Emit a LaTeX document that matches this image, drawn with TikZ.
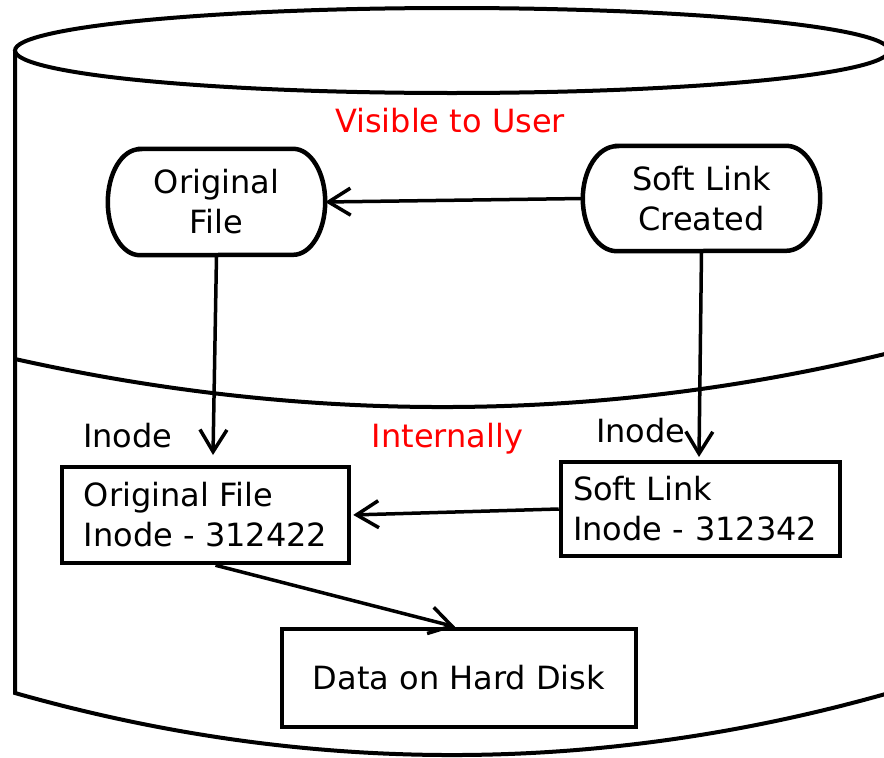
\documentclass[tikz,border=0pt]{standalone}
\usepackage{fontspec}
\setmainfont{DejaVu Sans}
\usetikzlibrary{arrows.meta,calc}
\begin{document}
\begin{tikzpicture}[x=1pt,y=-1pt,
  cyl/.style={line width=4pt},
  txt/.style={font=\fontsize{32}{40}\selectfont},
  pill/.style={txt, inner sep=0pt, align=center},
  outline/.style={line width=4.5pt},
  rbox/.style={txt, draw, line width=4.5pt, inner ysep=0pt, align=left},
  lbl/.style={txt, inner sep=0pt},
  conn/.style={line width=3.5pt, -{Straight Barb[length=22pt,width=27pt,line width=3.5pt]}}
]
\useasboundingbox (0,0) rectangle (884,758);
% cylinder
\draw[cyl] (452,50.5) ellipse[x radius=437pt, y radius=42.5pt];
\draw[cyl] (15,50.5) -- (15,693) .. controls (306.3,775.7) and (597.7,775.7) .. (889,693) -- (889,50.5);
\draw[cyl] (15,359) .. controls (306.3,424) and (597.7,424) .. (889,353);
% pill nodes
\node[pill, minimum width=217pt, minimum height=106pt] (orig) at (216.5,202) {Original\\File};
\node[pill, minimum width=237pt, minimum height=105pt] (soft) at (701.5,198.5) {Soft Link\\Created};
\draw[outline] ([xshift=32pt]orig.north west) -- ([xshift=-32pt]orig.north east)
  arc[start angle=90,end angle=-90,x radius=32pt,y radius=53pt]
  -- ([xshift=32pt]orig.south west)
  arc[start angle=270,end angle=90,x radius=32pt,y radius=53pt] -- cycle;
\draw[outline] ([xshift=34pt]soft.north west) -- ([xshift=-34pt]soft.north east)
  arc[start angle=90,end angle=-90,x radius=34pt,y radius=52.5pt]
  -- ([xshift=34pt]soft.south west)
  arc[start angle=270,end angle=90,x radius=34pt,y radius=52.5pt] -- cycle;
% rectangles
\node[rbox, minimum width=287pt, minimum height=96pt] (origI) at (205.5,515) {Original File\\Inode - 312422};
\node[rbox, minimum width=279pt, minimum height=94pt, inner xsep=12pt, text width=255pt] (softI) at (700.5,509) {Soft Link\\Inode - 312342};
\node[rbox, minimum width=354pt, minimum height=98pt, align=center] (data) at (459,678) {Data on Hard Disk};
% labels
\node[lbl, red, anchor=base] (vis) at (450,132) {Visible to User};
\node[lbl, red, anchor=base] (int) at (447.5,447) {Internally};
\node[lbl, anchor=base west] (in1) at (83,447) {Inode};
\node[lbl, anchor=base west] (in2) at (596,442) {Inode};
% connectors
\coordinate (t1) at (213,455);
\coordinate (t2) at (699,457);
\draw[conn] (soft.west) -- (orig.east);
\draw[conn] (orig.south) -- (t1);
\draw[conn] (soft.south) -- (t2);
\draw[conn, shorten >=2pt] (softI.west) -- (origI.east);
\draw[conn] ([xshift=10pt]origI.south) -- ([xshift=-4pt]data.north);
\end{tikzpicture}
\end{document}
